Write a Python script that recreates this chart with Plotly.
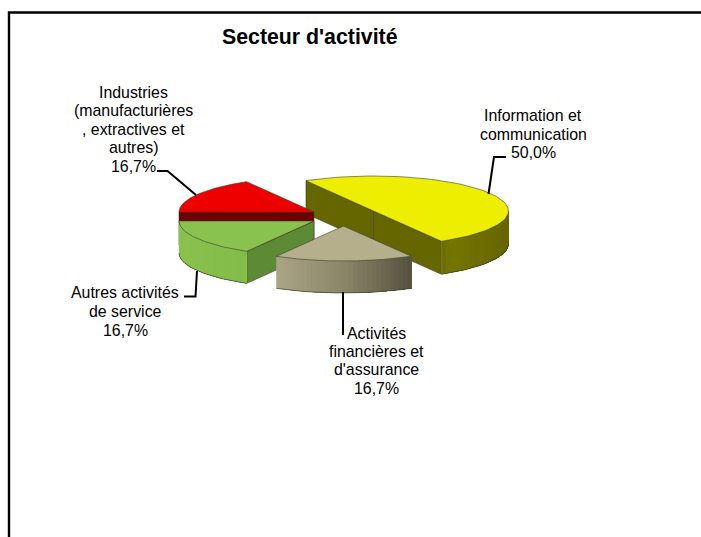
import numpy as np
import plotly.graph_objects as go

# ---- data ----
categories = ["Information et communication", "Activités financières et d'assurance",
              "Autres activités de service", "Industries (manufacturières, extractives et autres)"]
values = [50.0, 16.7, 16.7, 16.7]
label_lines = [
    ["Information et", "communication"],
    ["Activités", "financières et", "d'assurance"],
    ["Autres activités", "de service"],
    ["Industries", "(manufacturières", ", extractives et", "autres)"],
]
title = "Secteur d'activité"

# ---- pie look (positions in page pixels) ----
W, H = 701, 537
A, B = 135.0, 35.0
START = 120.0
centres = [(373.5, 211.0), (343.5, 226.0), (314.0, 221.0), (314.0, 212.0)]
depths = [33, 32, 32, 33]
tops = ["#EEEE00", "#B5AF8C", "#8AC24F", "#EE0000"]
cut_col = ["#666600", None, "#5C8A35", "#6E0000"]
wall_stops = [
    [(0.0, "#6E6E00"), (0.15, "#757500"), (1.0, "#666600")],
    [(0.0, "#ABA587"), (0.5, "#8C8669"), (1.0, "#55523F")],
    [(0.0, "#8AC24F"), (1.0, "#84BC4A")],
    [(0.0, "#6E0000"), (1.0, "#6E0000")],
]
label_pos = [(533, [115, 134]), (376, [333, 351, 369]), (125, [292, 311]), (133, [92, 110, 129, 147])]
pct_pos = [(533, 152), (376, 388), (125, 330), (133, 166)]
leaders = [
    ([488.5, 494, 506], [194, 157, 157]),
    ([343, 343], [292, 335]),
    ([184, 195.5, 197], [296.5, 296.5, 271]),
    ([157, 167.5, 196], [171, 171, 195]),
]
EDGE = "rgba(60,60,40,0.75)"

fractions = np.array(values) / sum(values)
ends = START - np.cumsum(fractions) * 360
starts = np.concatenate([[START], ends[:-1]])

def hex_rgb(c):
    return np.array([int(c[i:i + 2], 16) for i in (1, 3, 5)], float)

def stop_colour(stops, f):
    xs = [s[0] for s in stops]
    cs = np.array([hex_rgb(s[1]) for s in stops])
    r = [np.interp(f, xs, cs[:, k]) for k in range(3)]
    return "rgb(%d,%d,%d)" % tuple(r)

def arc(c, a0, a1, n=80):
    t = np.radians(np.linspace(a0, a1, n))
    return c[0] + A * np.cos(t), c[1] - B * np.sin(t)

fig = go.Figure()

def poly(x, y, fill, line=None, width=0.8):
    fig.add_trace(go.Scatter(
        x=list(x), y=list(y), mode="lines", fill="toself", fillcolor=fill,
        line=dict(color=line or fill, width=width), hoverinfo="skip", showlegend=False))

def stroke(x, y, color=EDGE, width=0.9):
    fig.add_trace(go.Scatter(x=list(x), y=list(y), mode="lines",
                             line=dict(color=color, width=width), hoverinfo="skip", showlegend=False))

def cut_face(p, q, d, col):
    poly([p[0], q[0], q[0], p[0], p[0]], [p[1], q[1], q[1] + d, p[1] + d, p[1]], col, EDGE)

def outer_wall(i, a0, a1):
    """Front-facing rim between parameter angles a0 > a1, shaded left to right."""
    c, d = centres[i], depths[i]
    lo, hi = max(a1, -180), min(a0, 0)
    if lo >= hi:
        return
    n = 31
    x, y = arc(c, lo, hi, n)          # painted left to right, each strip overlapping the next
    xmin, xmax = x.min(), x.max()
    for k in range(n - 1):
        f = ((x[k] + x[k + 1]) / 2 - xmin) / max(xmax - xmin, 1)
        col = stop_colour(wall_stops[i], f)
        xs = x[k:]
        ys = y[k:]
        poly(np.r_[xs, xs[::-1], xs[0]], np.r_[ys, ys[::-1] + d, ys[0]], col, None, 0)
    stroke(x, y + d)

def top_face(i):
    c = centres[i]
    x, y = arc(c, starts[i], ends[i])
    poly(np.r_[c[0], x, c[0]], np.r_[c[1], y, c[1]], tops[i], EDGE)

def rim_point(i, a):
    return tuple(v.item() for v in np.array(arc(centres[i], a, a, 1)).ravel())

# Information et communication (back): the long cut face, then the rim
cut_face(rim_point(0, starts[0]), centres[0], depths[0], cut_col[0])
cut_face(centres[0], rim_point(0, ends[0]), depths[0], cut_col[0])
outer_wall(0, starts[0], ends[0])
top_face(0)

# Industries: cut face along the horizontal, then top
cut_face(rim_point(3, starts[3]), centres[3], depths[3], cut_col[3])
top_face(3)

# Autres activites: side cut, rim, top
cut_face(centres[2], rim_point(2, starts[2]), depths[2], cut_col[2])
outer_wall(2, starts[2], ends[2])
top_face(2)

# Activites financieres: rim then top
outer_wall(1, starts[1], ends[1])
top_face(1)

# leader lines
for lx, ly in leaders:
    stroke(lx, ly, "#000000", 2)

# frame (open on the right and bottom, as cropped)
stroke([9, 9, W], [H, 12.5, 12.5], "#000000", 2.4)

FONT = "Liberation Sans, Arial, sans-serif"
ann = [dict(x=310, y=37, text=title, showarrow=False, xanchor="center", yanchor="middle",
            font=dict(family=FONT, size=21.3, color="#000000", weight="bold"))]
for lines, (cx, ys), v, (px, py) in zip(label_lines, label_pos, values, pct_pos):
    for t, yy in zip(lines, ys):
        ann.append(dict(x=cx, y=yy, text=t, showarrow=False, xanchor="center", yanchor="middle",
                        font=dict(family=FONT, size=15.9, color="#000000")))
    ann.append(dict(x=px, y=py, text=f"{v:.1f}%".replace(".", ","), showarrow=False,
                    xanchor="center", yanchor="middle",
                    font=dict(family=FONT, size=15.9, color="#000000")))

fig.update_layout(
    width=W, height=H, autosize=False,
    margin=dict(l=0, r=0, t=0, b=0),
    paper_bgcolor="white", plot_bgcolor="white",
    xaxis=dict(range=[0, W], visible=False, fixedrange=True),
    yaxis=dict(range=[H, 0], visible=False, fixedrange=True),
    annotations=ann, showlegend=False,
)
fig.write_html("out.html", config=dict(displayModeBar=False),
               post_script="document.body.style.margin='0';document.body.style.overflow='hidden';"
                           "document.documentElement.style.overflow='hidden';")
